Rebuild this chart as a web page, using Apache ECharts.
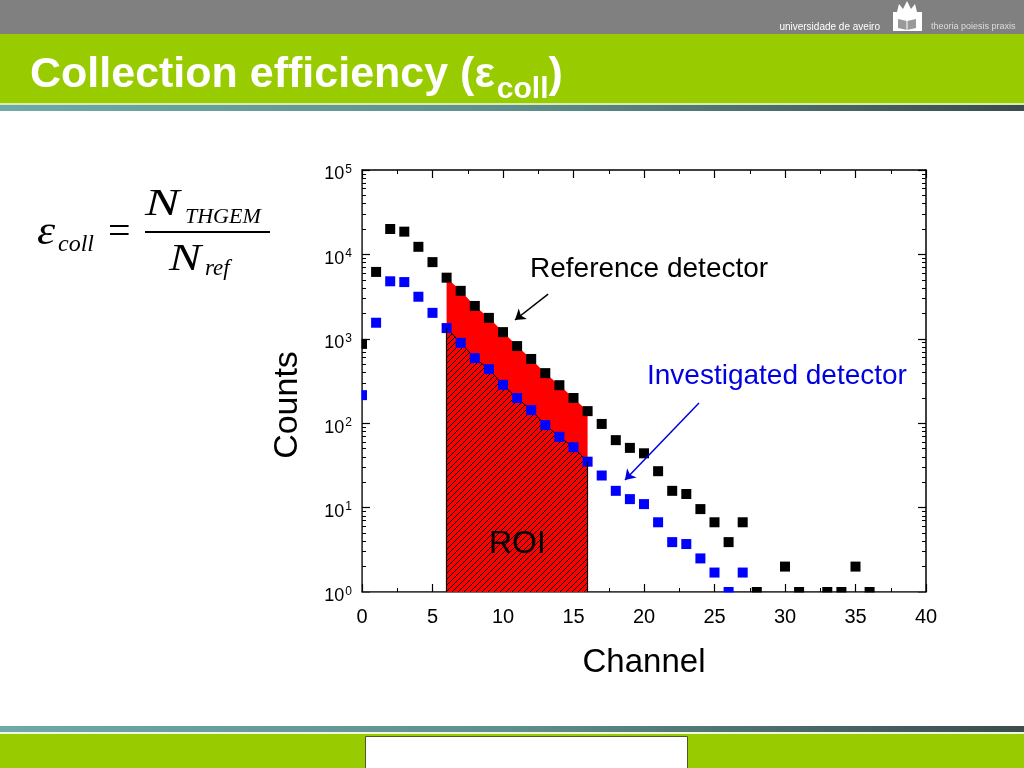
<!DOCTYPE html>
<html><head><meta charset="utf-8">
<script src="https://cdn.jsdelivr.net/npm/echarts@6/dist/echarts.min.js"></script>
<style>html,body{margin:0;padding:0;background:#fff}#c{width:1024px;height:768px}</style>
</head><body><div id="c"></div>
<script>
// ---- data ----
const channels = [0,1,2,3,4,5,6,7,8,9,10,11,12,13,14,15,16,17,18,19,20,21,22,23,24,25,26,27,28,29,30,31,32,33,34,35,36];
const referenceCounts = [870,6200,20000,18600,12300,8100,5300,3700,2450,1770,1200,820,577,392,282,199,139,98,63,51,44,27,15.8,14.5,9.6,6.7,3.9,6.7,1,null,2,1,null,1,1,2,1];
const investigatedCounts = [215,1550,4800,4700,3150,2030,1340,895,590,437,285,199,143,95,69,52,35,24,15.8,12.6,11,6.7,3.9,3.7,2.5,1.7,1,1.7];
const xTickLabels = [0,5,10,15,20,25,30,35,40];
const roiStart = 6, roiEnd = 16;
const refArrow = [[13.2,3390],[10.85,1670]];
const invArrow = [[23.9,174],[18.65,21.2]];

const SANS = '"Liberation Sans", Arial, Helvetica, sans-serif';
const SERIF = '"Liberation Serif", "Times New Roman", serif';

function pairs(vals){ const out=[]; vals.forEach((v,i)=>{ if(v!=null) out.push([channels[i], v]); }); return out; }
function roi(vals){ return pairs(vals).filter(p=>p[0]>=roiStart && p[0]<=roiEnd); }

function hatchCanvas(){
  const c=document.createElement('canvas'); c.width=6; c.height=6;
  const g=c.getContext('2d');
  g.fillStyle='#ff0000'; g.fillRect(0,0,6,6);
  g.strokeStyle='#000'; g.lineWidth=1;
  g.beginPath();
  g.moveTo(-1,7); g.lineTo(7,-1);
  g.moveTo(-4,4); g.lineTo(4,-4);
  g.moveTo(2,10); g.lineTo(10,2);
  g.stroke();
  return c;
}

function measure(text, font){
  const c=document.createElement('canvas').getContext('2d'); c.font=font; return c.measureText(text).width;
}

const chart = echarts.init(document.getElementById('c'), null, {renderer:'canvas'});

const tMainFont = 'bold 43px ' + SANS;
const tSubFont = 'bold 30px ' + SANS;
const tMain = 'Collection efficiency (ε';
const wMain = measure(tMain, tMainFont);
const wSub = measure('coll', tSubFont);

const axisLineStyle = {color:'#000', width:1.5};
const logLabel = v => '{b|10}{s|' + Math.round(Math.log10(v)) + '}';
const tickStyle = {show:true, inside:true, length:8, lineStyle:{color:'#000', width:1.2}};

const option = {
  animation:false,
  backgroundColor:'#fff',
  grid:{left:362, right:98, top:170, bottom:176, containLabel:false},
  xAxis:[
    {type:'value', position:'bottom', min:0, max:40, interval:5,
     axisLine:{show:true, onZero:false, lineStyle:axisLineStyle},
     axisTick:tickStyle,
     minorTick:{show:true, splitNumber:2, length:4, lineStyle:{color:'#000', width:1}},
     axisLabel:{show:true, fontSize:20, color:'#000', fontFamily:SANS, margin:15, showMinLabel:true, showMaxLabel:true,
       formatter: v => xTickLabels.indexOf(v)>=0 ? String(v) : ''},
     splitLine:{show:false},
     name:'Channel', nameLocation:'middle', nameGap:54, nameTextStyle:{fontSize:33, color:'#000', fontFamily:SANS}},
    {type:'value', position:'top', min:0, max:40, interval:5,
     axisLine:{show:true, onZero:false, lineStyle:axisLineStyle},
     axisTick:tickStyle,
     minorTick:{show:true, splitNumber:2, length:4, lineStyle:{color:'#000', width:1}},
     axisLabel:{show:false}, splitLine:{show:false}}
  ],
  yAxis:[
    {type:'log', logBase:10, min:1, max:100000, position:'left',
     axisLine:{show:true, onZero:false, lineStyle:axisLineStyle},
     axisTick:tickStyle,
     minorTick:{show:true, splitNumber:9, length:4, lineStyle:{color:'#000', width:1}},
     axisLabel:{show:true, formatter:logLabel, margin:10, color:'#000', padding:[9,0,0,0],
       rich:{b:{fontSize:18, fontFamily:SANS, color:'#000'}, s:{fontSize:12, fontFamily:SANS, color:'#000', verticalAlign:'top', padding:[0,0,10,1]}}},
     splitLine:{show:false}},
    {type:'log', logBase:10, min:1, max:100000, position:'right',
     axisLine:{show:true, onZero:false, lineStyle:axisLineStyle},
     axisTick:tickStyle,
     minorTick:{show:true, splitNumber:9, length:4, lineStyle:{color:'#000', width:1}},
     axisLabel:{show:false}, splitLine:{show:false}}
  ],
  series:[
    {type:'line', name:'refArea', data:roi(referenceCounts), symbol:'none', silent:true, z:1,
     lineStyle:{width:0, opacity:0}, areaStyle:{color:'#ff0000', opacity:1, origin:'start'}},
    {type:'line', name:'invArea', data:roi(investigatedCounts), symbol:'none', silent:true, z:2,
     lineStyle:{width:1, color:'#000'}, areaStyle:{color:{image:hatchCanvas(), repeat:'repeat'}, opacity:1, origin:'start'},
     markLine:{silent:true, symbol:['none','none'], label:{show:false}, lineStyle:{color:'#000', width:1.2, type:'solid'},
       data:[
         [{coord:[roiStart,1]},{coord:[roiStart, investigatedCounts[roiStart]]}],
         [{coord:[roiEnd,1]},{coord:[roiEnd, investigatedCounts[roiEnd]]}]
       ]}},
    {type:'scatter', name:'Reference detector', data:pairs(referenceCounts), symbol:'rect', symbolSize:10, clip:true, z:3,
     itemStyle:{color:'#000', opacity:1},
     markLine:{silent:true, symbol:['none','arrow'], symbolSize:10, label:{show:false}, lineStyle:{color:'#000', width:1.5, type:'solid'},
       data:[[{coord:refArrow[0]},{coord:refArrow[1]}]]}},
    {type:'scatter', name:'Investigated detector', data:pairs(investigatedCounts), symbol:'rect', symbolSize:10, clip:true, z:3,
     itemStyle:{color:'#0000ff', opacity:1},
     markLine:{silent:true, symbol:['none','arrow'], symbolSize:10, label:{show:false}, lineStyle:{color:'#0000e0', width:1.5, type:'solid'},
       data:[[{coord:invArrow[0]},{coord:invArrow[1]}]]}}
  ],
  graphic:[
    // slide header
    {type:'rect', z:-1, shape:{x:0,y:0,width:1024,height:34}, style:{fill:'#808080'}},
    {type:'rect', z:-1, shape:{x:0,y:34,width:1024,height:69}, style:{fill:'#99cc00'}},
    {type:'rect', z:-1, shape:{x:0,y:103,width:1024,height:2}, style:{fill:'#d8ecb0'}},
    {type:'rect', z:-1, shape:{x:0,y:105,width:1024,height:6}, style:{fill:new echarts.graphic.LinearGradient(0,0,1,0,[{offset:0,color:'#6fa9a8'},{offset:0.5,color:'#5f8f8c'},{offset:1,color:'#3b4c4c'}])}},
    // footer
    {type:'rect', z:-1, shape:{x:0,y:726,width:1024,height:6}, style:{fill:new echarts.graphic.LinearGradient(0,0,1,0,[{offset:0,color:'#6fa9a8'},{offset:0.5,color:'#5f8f8c'},{offset:1,color:'#3b4c4c'}])}},
    {type:'rect', z:-1, shape:{x:0,y:732,width:1024,height:2}, style:{fill:'#f0f8e0'}},
    {type:'rect', z:-1, shape:{x:0,y:734,width:1024,height:34}, style:{fill:'#99cc00'}},
    {type:'rect', z:-1, shape:{x:365.5,y:736.5,width:322,height:40}, style:{fill:'#ffffff', stroke:'#4a5a2a', lineWidth:1}},
    // masks so edge markers show as half squares, as in the source
    {type:'rect', z:100, silent:true, shape:{x:355,y:160,width:6.2,height:440}, style:{fill:'#ffffff'}},
    {type:'rect', z:100, silent:true, shape:{x:355,y:592.8,width:580,height:6}, style:{fill:'#ffffff'}},
    // logo
    {type:'text', style:{x:880, y:27, text:'universidade de aveiro', font:'10px '+SANS, fill:'#ffffff', textAlign:'right', textVerticalAlign:'middle'}},
    {type:'polygon', shape:{points:[[893,12],[897,12],[899,4],[903,9],[907,1],[911,9],[915,4],[917,12],[922,12],[922,31],[893,31]]}, style:{fill:'#ffffff'}},
    {type:'polygon', shape:{points:[[898,19],[907,21],[916,19],[916,28],[907,30],[898,28]]}, style:{fill:'#9a9a9a'}},
    {type:'rect', shape:{x:906.5,y:21,width:1,height:9}, style:{fill:'#ffffff'}},
    {type:'text', style:{x:931, y:27, text:'theoria poiesis praxis', font:'9px '+SANS, fill:'#dddddd', textAlign:'left', textVerticalAlign:'middle'}},
    // title
    {type:'text', style:{x:30, y:75, text:tMain, font:tMainFont, fill:'#ffffff', textAlign:'left', textVerticalAlign:'middle'}},
    {type:'text', style:{x:30+wMain+2, y:90, text:'coll', font:tSubFont, fill:'#ffffff', textAlign:'left', textVerticalAlign:'middle'}},
    {type:'text', style:{x:30+wMain+2+wSub, y:75, text:')', font:tMainFont, fill:'#ffffff', textAlign:'left', textVerticalAlign:'middle'}},
    // formula
    {type:'text', x:37, y:233, scaleX:1.15, style:{x:0, y:0, text:'ε', font:'italic 40px '+SERIF, fill:'#000', textAlign:'left', textVerticalAlign:'middle'}},
    {type:'text', style:{x:58, y:245, text:'coll', font:'italic 24px '+SERIF, fill:'#000', textAlign:'left', textVerticalAlign:'middle'}},
    {type:'text', style:{x:108, y:233, text:'=', font:'40px '+SERIF, fill:'#000', textAlign:'left', textVerticalAlign:'middle'}},
    {type:'rect', shape:{x:145, y:231, width:125, height:2}, style:{fill:'#000'}},
    {type:'text', x:145, y:205, scaleX:1.4, style:{x:0, y:0, text:'N', font:'italic 37px '+SERIF, fill:'#000', textAlign:'left', textVerticalAlign:'middle'}},
    {type:'text', style:{x:185, y:217, text:'THGEM', font:'italic 22px '+SERIF, fill:'#000', textAlign:'left', textVerticalAlign:'middle'}},
    {type:'text', x:169, y:260, scaleX:1.3, style:{x:0, y:0, text:'N', font:'italic 37px '+SERIF, fill:'#000', textAlign:'left', textVerticalAlign:'middle'}},
    {type:'text', style:{x:205, y:269, text:'ref', font:'italic 23px '+SERIF, fill:'#000', textAlign:'left', textVerticalAlign:'middle'}},
    // axis title (rotated)
    {type:'text', x:288, y:405, rotation:Math.PI/2, style:{x:0, y:0, text:'Counts', font:'34px '+SANS, fill:'#000', textAlign:'center', textVerticalAlign:'middle'}},
    // annotations
    {type:'text', z:10, style:{x:530, y:269, text:'Reference detector', font:'28px '+SANS, fill:'#000', textAlign:'left', textVerticalAlign:'middle'}},
    {type:'text', z:10, style:{x:647, y:376, text:'Investigated detector', font:'28px '+SANS, fill:'#0000e0', textAlign:'left', textVerticalAlign:'middle'}},
    {type:'text', z:10, style:{x:489, y:544, text:'ROI', font:'32px '+SANS, fill:'#000', textAlign:'left', textVerticalAlign:'middle'}}
  ]
};
chart.setOption(option);
</script>
</body></html>
